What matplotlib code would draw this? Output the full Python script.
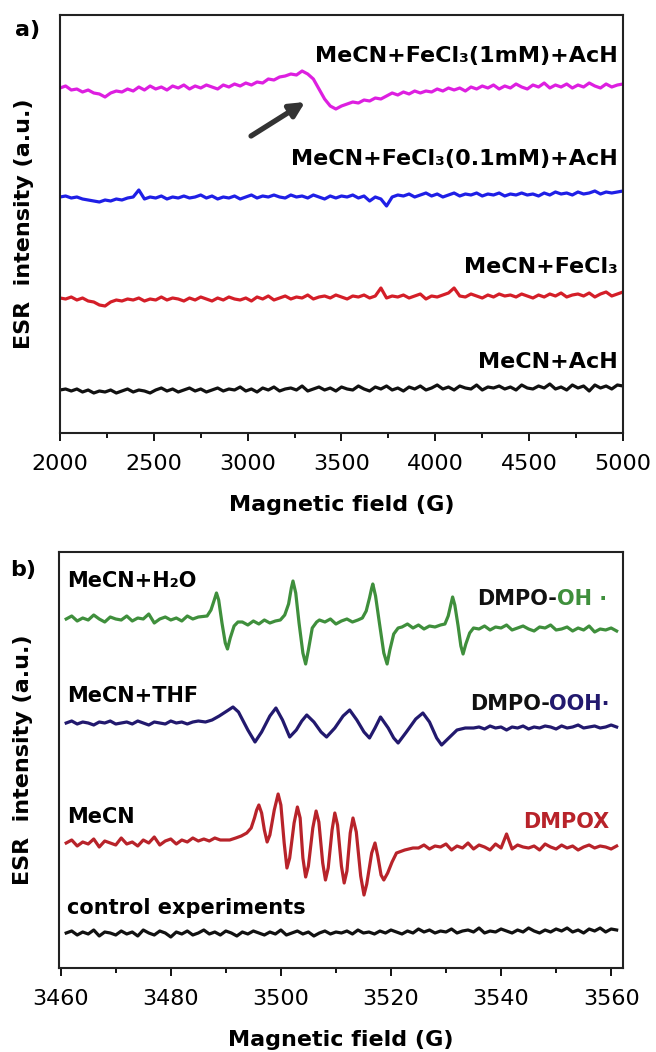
import numpy as np
import matplotlib
matplotlib.use('Agg')
import matplotlib.pyplot as plt
from matplotlib.text import Annotation
from matplotlib.ticker import MultipleLocator

plt.rcParams['font.family'] = ['DejaVu Sans']

# ---------------- Panel a data (field 2000..5000 G, 30 G steps) ----------------
a_magenta = [345, 347, 343, 344, 341, 343, 340, 339, 336, 340,
             342, 341, 344, 342, 346, 343, 347, 344, 346, 343,
             347, 345, 348, 344, 347, 345, 348, 346, 344, 348,
             346, 349, 347, 350, 348, 351, 350, 354, 353, 356,
             357, 359, 358, 362, 359, 354, 344, 334, 327, 324,
             327, 329, 331, 330, 333, 332, 335, 334, 337, 340,
             338, 341, 339, 342, 340, 342, 341, 344, 342, 345,
             343, 345, 342, 346, 344, 347, 345, 348, 344, 347,
             345, 349, 346, 344, 348, 346, 350, 345, 348, 346,
             349, 345, 348, 346, 350, 347, 345, 349, 346, 348, 349]
a_blue = [236, 237, 235, 236, 234, 233, 232, 231, 233, 232,
          234, 233, 235, 236, 243, 234, 236, 235, 237, 234,
          236, 235, 237, 235, 236, 238, 235, 237, 234, 236,
          235, 237, 234, 236, 238, 235, 237, 236, 238, 236,
          235, 238, 236, 237, 235, 238, 236, 234, 237, 235,
          237, 236, 238, 235, 237, 232, 236, 234, 227, 236,
          238, 237, 239, 236, 238, 240, 237, 239, 236, 238,
          240, 237, 239, 238, 240, 237, 239, 238, 240, 237,
          239, 238, 240, 238, 239, 237, 240, 238, 241, 239,
          240, 238, 241, 239, 240, 242, 239, 241, 240, 241, 242]
a_red = [135, 134, 136, 133, 135, 132, 131, 128, 127, 131,
         133, 132, 134, 133, 135, 132, 134, 133, 136, 133,
         135, 134, 132, 135, 133, 136, 134, 132, 135, 133,
         136, 134, 133, 135, 132, 136, 134, 137, 133, 135,
         137, 134, 136, 135, 138, 134, 136, 137, 135, 138,
         136, 134, 137, 136, 138, 135, 137, 145, 135, 137,
         136, 138, 135, 137, 139, 134, 137, 136, 138, 140,
         145, 137, 136, 139, 137, 135, 138, 136, 139, 137,
         138, 136, 139, 137, 135, 138, 136, 139, 137, 140,
         136, 138, 139, 137, 140, 136, 139, 141, 137, 139, 141]
a_black = [43, 44, 42, 44, 41, 43, 40, 42, 41, 43,
           40, 42, 44, 41, 43, 42, 40, 43, 45, 42,
           44, 41, 43, 45, 42, 44, 41, 43, 45, 42,
           44, 43, 46, 42, 44, 41, 45, 43, 46, 42,
           44, 45, 43, 47, 42, 44, 46, 43, 45, 42,
           46, 44, 43, 47, 44, 42, 46, 44, 47, 43,
           45, 42, 46, 44, 47, 43, 45, 48, 44, 46,
           43, 47, 45, 44, 48, 43, 46, 45, 47, 44,
           46, 43, 48, 45, 44, 47, 45, 49, 44, 46,
           43, 48, 45, 47, 42, 48, 45, 47, 44, 48, 47]
a_labels = ["MeCN+FeCl\u2083(1mM)+AcH", "MeCN+FeCl\u2083(0.1mM)+AcH",
            "MeCN+FeCl\u2083", "MeCN+AcH"]
a_colors = ['#dd1fe0', '#1f1fe6', '#d41e28', '#111111']

# ---------------- Panel b data ----------------
# DMPO-OH (MeCN+H2O), green
g_x = (list(range(3461, 3486))
       + [3486.6, 3487.3, 3487.9, 3488.3, 3488.7, 3489.3, 3489.9, 3490.3, 3490.8, 3491.5, 3492.2]
       + list(range(3493, 3500))
       + [3499.9, 3500.7, 3501.4, 3501.9, 3502.2, 3502.7, 3503.3, 3504.0, 3504.5, 3505.0, 3505.7, 3506.5]
       + list(range(3507, 3515))
       + [3514.8, 3515.5, 3516.1, 3516.5, 3516.7, 3517.2, 3517.9, 3518.7, 3519.3, 3519.8, 3520.5, 3521.3]
       + list(range(3522, 3530))
       + [3529.8, 3530.4, 3530.9, 3531.2, 3531.6, 3532.2, 3532.7, 3533.1, 3533.6, 3534.3, 3535.0]
       + list(range(3536, 3562)))
g_y = ([349, 352, 347, 350, 348, 353, 349, 346, 351, 349, 348, 352, 347,
        350, 349, 354, 345, 349, 351, 348, 350, 347, 352, 349, 351]
       + [352, 358, 368, 375, 368, 345, 325, 319, 330, 342, 346]
       + [346, 343, 347, 344, 348, 345, 347]
       + [348, 353, 364, 380, 387, 375, 345, 315, 304, 318, 340, 346]
       + [348, 346, 349, 344, 347, 349, 346, 348]
       + [350, 357, 370, 380, 384, 372, 345, 315, 304, 318, 334, 340]
       + [341, 344, 340, 343, 339, 342, 341, 343]
       + [344, 352, 364, 371, 363, 342, 322, 314, 324, 335, 340]
       + [339, 342, 338, 341, 340, 343, 338, 340, 342, 339, 337, 341, 340,
          343, 338, 339, 341, 337, 340, 338, 342, 336, 339, 338, 340, 337])

# DMPO-OOH (MeCN+THF), navy
n_x = (list(range(3461, 3486))
       + [3486.3, 3487.5, 3488.8, 3490.2, 3491.3, 3492.3, 3494.0, 3495.3, 3496.5, 3498.0,
          3499.1, 3500.3, 3501.6, 3502.8, 3503.8, 3504.7, 3506.0, 3507.3, 3508.3, 3509.8,
          3511.3, 3512.5, 3513.8, 3515.1, 3516.1, 3517.1, 3518.1, 3519.5, 3520.5, 3521.3,
          3522.8, 3524.5, 3525.8, 3527.0, 3528.3, 3529.2, 3530.5, 3532.0, 3533.5]
       + list(range(3535, 3562)))
n_y = ([245, 247, 244, 246, 245, 243, 246, 245, 247, 244, 245, 246, 244,
        247, 245, 243, 246, 245, 244, 247, 245, 246, 244, 246, 247]
       + [246, 248, 252, 257, 261, 256, 238, 226, 236, 252,
          260, 248, 231, 238, 247, 253, 246, 236, 231, 240,
          252, 258, 248, 236, 230, 240, 251, 240, 230, 225,
          236, 249, 255, 246, 230, 223, 230, 238, 240]
       + [240, 241, 239, 242, 240, 241, 238, 241, 240, 242, 239, 241, 240, 242,
          241, 239, 242, 240, 241, 243, 240, 241, 242, 240, 241, 243, 241])

# DMPOX (MeCN), red
r_x = (list(range(3461, 3490))
       + [3490.7, 3491.8, 3492.8, 3493.8, 3494.6, 3495.2, 3495.6, 3496.0, 3496.5, 3497.0,
          3497.5, 3498.0, 3498.8, 3499.5, 3500.0, 3500.6, 3501.1, 3501.6, 3502.4, 3503.0,
          3503.5, 3504.0, 3504.5, 3505.0, 3505.8, 3506.4, 3506.9, 3507.6, 3508.1, 3508.6,
          3509.3, 3509.8, 3510.3, 3511.0, 3511.5, 3512.0, 3512.6, 3513.1, 3513.7, 3514.5,
          3515.1, 3515.6, 3516.5, 3517.1, 3517.6, 3518.2, 3518.7, 3519.4, 3520.2, 3521.0,
          3522.5, 3524.0]
       + list(range(3525, 3562)))
r_y = ([125, 128, 122, 126, 124, 129, 121, 127, 125, 123, 130, 124, 126, 122, 128,
        125, 131, 123, 127, 129, 124, 128, 126, 130, 127, 129, 127, 130, 128]
       + [128, 130, 132, 135, 140, 150, 158, 163, 155, 138,
          126, 133, 158, 174, 163, 125, 100, 110, 145, 161,
          150, 110, 91, 102, 140, 157, 146, 105, 88, 100,
          138, 155, 143, 102, 85, 97, 135, 150, 136, 92,
          73, 84, 115, 125, 112, 93, 88, 95, 106, 115,
          118, 120]
       + [120, 123, 119, 122, 121, 124, 118, 122, 120, 125, 119, 123, 121, 118, 124,
          120, 134, 119, 123, 121, 120, 122, 118, 124, 121, 119, 123, 120, 122, 118,
          121, 123, 120, 122, 121, 119, 122])

# control experiments, black (3461..3561 G, 1 G steps)
k_y = [35, 37, 33, 36, 34, 38, 32, 36, 35, 33,
       37, 34, 36, 32, 38, 35, 33, 37, 35, 31,
       36, 34, 37, 33, 35, 38, 34, 36, 33, 37,
       35, 32, 36, 34, 37, 35, 33, 36, 34, 38,
       33, 35, 37, 34, 36, 32, 35, 37, 34, 36,
       35, 37, 34, 38, 35, 36, 34, 37, 35, 38,
       36, 34, 37, 35, 39, 36, 38, 35, 37, 36,
       39, 35, 37, 38, 36, 40, 35, 37, 36, 39,
       37, 35, 38, 36, 40, 37, 35, 38, 36, 39,
       37, 40, 36, 38, 35, 39, 37, 40, 36, 39, 38]

b_colors = {'green': '#3f8f3c', 'navy': '#22196e', 'red': '#b8232a', 'black': '#111111'}

arrow_tail = (3018, 297)
arrow_head = (3306, 331)

# ---------------- Figure ----------------
W, H = 656, 1052
fig = plt.figure(figsize=(W / 100, H / 100), dpi=100)


def fbox(l, t, r, b):
    return [l / W, 1 - b / H, (r - l) / W, (b - t) / H]


def P(x, y):
    return (x / W, 1 - y / H)


def trim(x, y):
    n = min(len(x), len(y))
    return x[:n], y[:n]


axa = fig.add_axes(fbox(60, 15, 623, 433))
axb = fig.add_axes(fbox(58.5, 552, 622.7, 968))

lw = 2.3
for vals, c in zip([a_magenta, a_blue, a_red, a_black], a_colors):
    xx = np.linspace(2000, 5000, len(vals))
    axa.plot(xx, vals, color=c, lw=lw, solid_joinstyle='round')
axa.set_xlim(2000, 5000)
axa.set_ylim(0, 418)
axa.xaxis.set_major_locator(MultipleLocator(500))
axa.xaxis.set_minor_locator(MultipleLocator(250))

axb.plot(*trim(g_x, g_y), color=b_colors['green'], lw=lw, solid_joinstyle='round')
axb.plot(*trim(n_x, n_y), color=b_colors['navy'], lw=lw, solid_joinstyle='round')
axb.plot(*trim(r_x, r_y), color=b_colors['red'], lw=lw, solid_joinstyle='round')
axb.plot(np.linspace(3461, 3561, len(k_y)), k_y, color=b_colors['black'], lw=lw,
         solid_joinstyle='round')
axb.set_xlim(3459.6, 3562.1)
axb.set_ylim(0, 416)
axb.xaxis.set_major_locator(MultipleLocator(20))
axb.xaxis.set_minor_locator(MultipleLocator(10))

for ax in (axa, axb):
    for s in ax.spines.values():
        s.set_linewidth(1.5)
        s.set_color('#222222')
    ax.tick_params(axis='x', which='major', direction='out', length=6, width=1.3,
                   labelsize=16, pad=9, top=False)
    ax.tick_params(axis='x', which='minor', direction='out', length=3.5, width=1.3, top=False)
    ax.tick_params(axis='y', which='both', left=False, right=False, labelleft=False)
    ax.set_xlabel('Magnetic field (G)', fontsize=16, fontweight='bold')
    ax.xaxis.set_label_coords(0.5, -0.148)
    ax.set_ylabel('ESR  intensity (a.u.)', fontsize=16, fontweight='bold')
    ax.yaxis.set_label_coords(-0.046, 0.5)

axa.annotate('', xy=arrow_head, xytext=arrow_tail,
             arrowprops=dict(arrowstyle='-|>', lw=3.8, color='#333333', mutation_scale=22,
                             shrinkA=0, shrinkB=0))

# panel letters
fig.text(*P(28, 30), 'a)', fontsize=16, fontweight='bold', ha='center', va='center')
fig.text(*P(23, 570), 'b)', fontsize=16, fontweight='bold', ha='center', va='center')

# panel a labels
for lab, yb in zip(a_labels, [62, 165, 273, 368]):
    fig.text(*P(618, yb), lab, fontsize=16, fontweight='bold', ha='right', va='baseline')

# panel b labels
fs_b = 15
fig.text(*P(67, 587), 'MeCN+H\u2082O', fontsize=fs_b, fontweight='bold', va='baseline')
fig.text(*P(67, 702), 'MeCN+THF', fontsize=fs_b, fontweight='bold', va='baseline')
fig.text(*P(67, 823), 'MeCN', fontsize=fs_b, fontweight='bold', va='baseline')
fig.text(*P(67, 914), 'control experiments', fontsize=fs_b, fontweight='bold', va='baseline')
fig.text(*P(609, 828), 'DMPOX', fontsize=fs_b, fontweight='bold', va='baseline', ha='right',
         color=b_colors['red'])

t1 = fig.text(*P(607, 605), 'OH \u00b7', fontsize=fs_b, fontweight='bold', va='baseline',
              ha='right', color=b_colors['green'])
fig.add_artist(Annotation('DMPO-', xy=(0, 0), xycoords=t1, fontsize=fs_b,
                          fontweight='bold', va='bottom', ha='right', color='#111111'))
t2 = fig.text(*P(610, 710), 'OOH\u00b7', fontsize=fs_b, fontweight='bold', va='baseline',
              ha='right', color=b_colors['navy'])
fig.add_artist(Annotation('DMPO-', xy=(0, 0), xycoords=t2, fontsize=fs_b,
                          fontweight='bold', va='bottom', ha='right', color='#111111'))

fig.savefig('out.png', dpi=100)
